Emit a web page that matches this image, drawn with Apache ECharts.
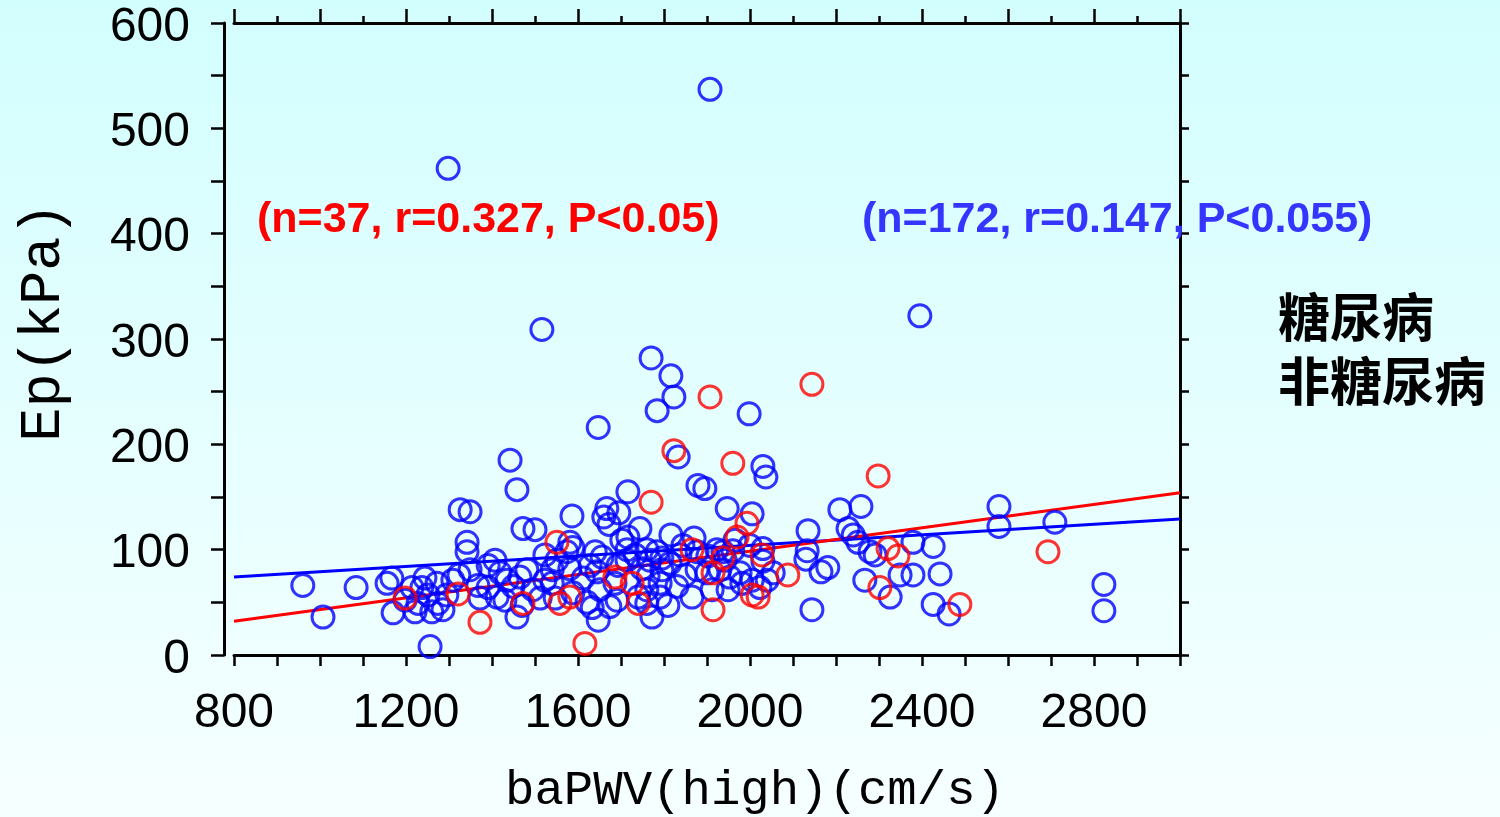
<!DOCTYPE html>
<html>
<head>
<meta charset="utf-8">
<script src="https://cdn.jsdelivr.net/npm/echarts@6/dist/echarts.min.js"></script>
<style>
html,body{margin:0;padding:0;}
#chart{width:1500px;height:817px;}
</style>
</head>
<body>
<div id="chart"></div>
<script>
// ---- data ----
const nonDiabetic = [ // blue, n=172
[960,66],[1007,36],[1084,64],[1156,68],[1167,73],[1170,40],[1214,64],[1221,41],[1228,49],[1237,64],
[1251,57],[1272,68],[1274,49],[1286,43],[1256,8],[1309,71],[1298,462],[1326,138],[1349,136],[1342,107],
[1342,98],[1367,66],[1391,85],[1391,64],[1412,55],[1419,78],[1435,71],[1449,65],[1481,81],[1495,62],
[1470,47],[1458,36],[1512,54],[1540,81],[1540,68],[1442,185],[1458,157],[1472,120],[1500,119],[1516,309],
[1581,107],[1586,132],[1574,98],[1640,98],[1588,59],[1621,50],[1651,62],[1647,33],[1674,46],[1647,216],
[1667,139],[1660,131],[1695,135],[1672,124],[1716,155],[1744,120],[1716,112],[1816,114],[1784,98],[1795,92],
[1767,90],[1714,100],[1714,90],[1772,36],[1791,55],[1791,68],[1740,55],[1830,65],[1865,55],[1870,111],
[1877,81],[1900,78],[1953,74],[1981,68],[2005,71],[1879,161],[1895,158],[1947,139],[2005,134],[2000,104],
[1937,98],[1942,90],[1770,282],[1816,265],[1823,245],[1784,232],[1998,229],[1907,537],[1833,188],[2030,179],
[2037,169],[2135,118],[2133,99],[2130,91],[2165,79],[2181,83],[2054,78],[2144,43],[2209,138],[2258,141],
[2228,120],[2240,114],[2251,107],[2279,98],[2291,95],[2379,107],[2349,76],[2379,76],[2267,71],[2326,55],
[2426,103],[2442,77],[2426,48],[2463,39],[2579,141],[2579,122],[2709,126],[2823,67],[2823,42],[2395,322],
[2030,101],[2023,64],[1588,102],[1656,93],[1733,95],[1760,100],[1877,98],[1902,94],[1923,100],[1960,99],
[2030,89],[1581,82],[1644,79],[1749,82],[1763,75],[1795,81],[1930,81],[1977,78],[1760,62],[1691,52],
[1809,47],[1244,73],[1295,57],[1260,41],[1407,90],[1465,74],[1523,71],[1430,52],[1372,54],[2040,71],
[1912,62],[1814,87],[1760,49],[1849,76],[1686,68],[1612,73],[1628,85],[1551,90],[1523,95],[1349,81],
[1323,76],[1198,52],[1949,62],[1965,109],[1844,104],[1702,109],[1633,45],[1547,54],[1693,85],[1837,95]
];
const diabetic = [ // red, n=37
[1198,54],[1321,58],[1372,31],[1472,49],[1551,107],[1558,49],[1581,55],[1616,11],[1686,74],[1726,68],
[1740,49],[1770,145],[1823,194],[1907,245],[1960,182],[2144,257],[1865,100],[1914,78],[1914,43],[2005,57],
[1993,125],[1970,112],[2028,95],[2088,76],[2019,55],[2298,170],[2321,101],[2344,94],[2302,64],[2488,48],
[2693,98],[1937,92]
];
const nonDiabeticFit = [[800,74],[3000,129]];
const diabeticFit = [[800,32],[3000,154]];
const seriesNames = ['糖尿病','非糖尿病'];
const statsDiabetic = '(n=37, r=0.327, P<0.05)';
const statsNonDiabetic = '(n=172, r=0.147, P<0.055)';
const xTitle = 'baPWV(high)(cm/s)';
const yTitle = 'Ep(kPa)';

const chart = echarts.init(document.getElementById('chart'), null, {renderer:'canvas'});
const black = '#000';
const axisLineStyle = {color: black, width: 3};
const tickStyle = {color: black, width: 2.5};
const labelFont = {color: black, fontSize: 48, fontFamily: 'Liberation Sans, Arial, sans-serif'};

chart.setOption({
  animation: false,
  backgroundColor: {
    type: 'linear', x: 0, y: 0, x2: 0, y2: 1,
    colorStops: [{offset: 0, color: '#D3FEFE'}, {offset: 1, color: '#F6FFFF'}]
  },
  grid: {left: 234, right: 320, top: 23, bottom: 162, containLabel: false, outerBoundsMode: 'none'},
  legend: {
    data: seriesNames,
    orient: 'vertical',
    left: 1267, top: 283,
    itemWidth: 0, itemHeight: 0, itemGap: 6,
    selectedMode: false,
    textStyle: {color: black, fontSize: 52, fontWeight: 'bold', lineHeight: 58,
      fontFamily: 'Noto Sans CJK SC, sans-serif'}
  },
  xAxis: [{
    type: 'value', position: 'bottom', min: 800, max: 3000, interval: 100,
    axisLine: {show: true, onZero: false, lineStyle: axisLineStyle},
    axisTick: {show: true, length: 11, lineStyle: tickStyle},
    splitLine: {show: false},
    axisLabel: Object.assign({margin: 35, formatter: v => (v % 400 === 0 ? String(v) : '')}, labelFont),
    name: xTitle, nameLocation: 'middle', nameGap: 112,
    nameTextStyle: {color: black, fontSize: 49, fontFamily: 'Liberation Mono, DejaVu Sans Mono, monospace', padding: [0, 0, 0, 96]}
  }, {
    type: 'value', position: 'top', min: 800, max: 3000, interval: 200,
    axisLine: {show: true, onZero: false, lineStyle: axisLineStyle},
    axisTick: {show: true, length: 14, lineStyle: tickStyle},
    minorTick: {show: true, splitNumber: 2, length: 7, lineStyle: tickStyle},
    splitLine: {show: false}, minorSplitLine: {show: false},
    axisLabel: {show: false}
  }],
  yAxis: [{
    type: 'value', position: 'left', offset: 10, min: 0, max: 600, interval: 50,
    axisLine: {show: true, onZero: false, lineStyle: axisLineStyle},
    axisTick: {show: true, length: 13, lineStyle: tickStyle},
    splitLine: {show: false},
    axisLabel: Object.assign({margin: 34, verticalAlign: 'top', lineHeight: 9, formatter: v => (v % 100 === 0 ? String(v) : '')}, labelFont),
    name: yTitle, nameLocation: 'middle', nameRotate: 90, nameGap: 152,
    nameTextStyle: {color: black, fontSize: 57, fontFamily: 'Liberation Mono, DejaVu Sans Mono, monospace', padding: [0, 0, 0, 34]}
  }, {
    type: 'value', position: 'right', min: 0, max: 600, interval: 50,
    axisLine: {show: true, onZero: false, lineStyle: axisLineStyle},
    axisTick: {show: true, length: 9, lineStyle: tickStyle},
    splitLine: {show: false},
    axisLabel: {show: false}
  }],
  series: [{
    name: seriesNames[1] + ' fit', type: 'line', data: nonDiabeticFit, symbol: 'none',
    lineStyle: {color: '#0000FF', width: 3}, z: 1, silent: true
  }, {
    name: seriesNames[0] + ' fit', type: 'line', data: diabeticFit, symbol: 'none',
    lineStyle: {color: '#FF0000', width: 3}, z: 1, silent: true
  }, {
    name: seriesNames[1], type: 'scatter', data: nonDiabetic, symbol: 'circle', symbolSize: 22,
    itemStyle: {color: 'rgba(0,0,0,0)', borderColor: '#0000FF', borderWidth: 3}, z: 2
  }, {
    name: seriesNames[0], type: 'scatter', data: diabetic, symbol: 'circle', symbolSize: 22,
    itemStyle: {color: 'rgba(0,0,0,0)', borderColor: '#FF0000', borderWidth: 3}, z: 3
  }],
  graphic: [{
    type: 'text', x: 257, y: 220, z: 10,
    style: {text: statsDiabetic, fill: '#FF0000', fontSize: 43, fontWeight: 'bold',
      fontFamily: 'Liberation Sans, Arial, sans-serif', align: 'left', verticalAlign: 'middle',
      textAlign: 'left', textVerticalAlign: 'middle'}
  }, {
    type: 'text', x: 862, y: 220, z: 10,
    style: {text: statsNonDiabetic, fill: '#3535FF', fontSize: 43, fontWeight: 'bold',
      fontFamily: 'Liberation Sans, Arial, sans-serif', align: 'left', verticalAlign: 'middle',
      textAlign: 'left', textVerticalAlign: 'middle'}
  }]
});
</script>
</body>
</html>
